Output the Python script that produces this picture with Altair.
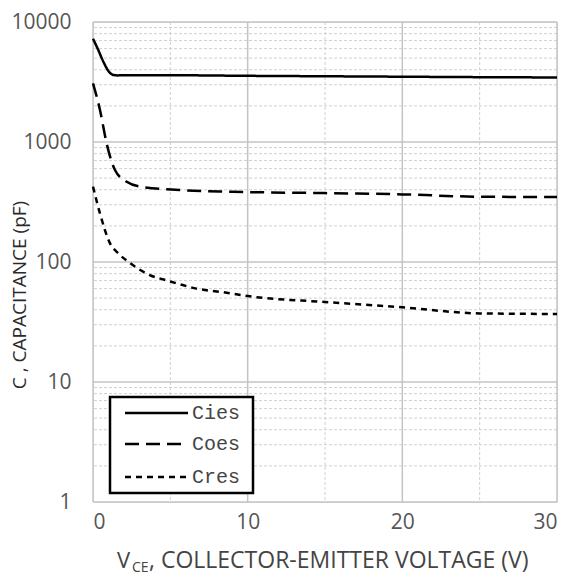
import altair as alt
import pandas as pd

# ---- data ----
cies_x = [0, 0.3, 0.67, 1.0, 1.31, 1.6, 2, 5, 10, 15, 20, 25, 30]
cies_y = [7250, 6000, 4665, 3900, 3620, 3590, 3600, 3600, 3560, 3530, 3500, 3470, 3450]

coes_x = [0, 0.45, 0.88, 1.42, 2.18, 3.04, 5.6, 9, 15, 20, 25, 30]
coes_y = [3080, 1850, 976, 584, 466, 425, 398, 385, 375, 366, 350, 348]

cres_x = [0, 0.45, 1.1, 1.64, 2.39, 3.47, 4.98, 6.7, 8.64, 10, 15, 20, 25, 30]
cres_y = [425, 254, 143, 118, 98, 80, 69, 60, 55.5, 52, 46.4, 41.9, 37.3, 36.9]

series_names = ["Cies", "Coes", "Cres"]

y_major = [1, 10, 100, 1000, 10000]
y_minor = [m * d for d in [1, 10, 100, 1000] for m in range(2, 10)]
x_major = [0, 10, 20, 30]
x_minor = [5, 15, 25]

W, H = 464, 480
FONT = "Open Sans"
DASHES = {"Cies": [1, 0], "Coes": [14, 7], "Cres": [6, 5]}

rows = []
for name, xs, ys in zip(series_names, [cies_x, coes_x, cres_x], [cies_y, coes_y, cres_y]):
    for xv, yv in zip(xs, ys):
        rows.append({"series": name, "v": xv, "c": yv})
df = pd.DataFrame(rows)

xscale = alt.Scale(domain=[0, 30], nice=False, zero=False)
yscale = alt.Scale(type="log", domain=[1, 10000], nice=False)

minor_h = alt.Chart(pd.DataFrame({"c": y_minor})).mark_rule(
    color="#d0d0d0", strokeDash=[3, 2], strokeWidth=1
).encode(y=alt.Y("c:Q", scale=yscale))

minor_v = alt.Chart(pd.DataFrame({"v": x_minor})).mark_rule(
    color="#d0d0d0", strokeDash=[3, 2], strokeWidth=1
).encode(x=alt.X("v:Q", scale=xscale))

major_h = alt.Chart(pd.DataFrame({"c": y_major})).mark_rule(
    color="#c4c4c4", strokeWidth=1.5
).encode(y=alt.Y("c:Q", scale=yscale))

major_v = alt.Chart(pd.DataFrame({"v": x_major})).mark_rule(
    color="#c4c4c4", strokeWidth=1.5
).encode(x=alt.X("v:Q", scale=xscale))

lines = alt.Chart(df).mark_line(
    color="black", strokeWidth=2.5, interpolate="monotone"
).encode(
    x=alt.X(
        "v:Q", scale=xscale,
        axis=alt.Axis(values=x_major, title=None, grid=False, ticks=False,
                      domain=False, labelFontSize=21, labelColor="#555555",
                      labelFont=FONT, labelPadding=9),
    ),
    y=alt.Y(
        "c:Q", scale=yscale,
        axis=alt.Axis(values=y_major, title=None, grid=False, ticks=False,
                      domain=False, labelFontSize=21, labelColor="#555555",
                      labelFont=FONT, labelPadding=22, format="d"),
    ),
    strokeDash=alt.StrokeDash(
        "series:N",
        scale=alt.Scale(domain=series_names, range=[DASHES[n] for n in series_names]),
        legend=None,
    ),
    detail="series:N",
)

# ---- hand-built legend box ----
legend_box = alt.Chart(pd.DataFrame({"k": [0]})).mark_rect(
    fill="white", stroke="black", strokeWidth=2.5
).encode(x=alt.value(17), x2=alt.value(160), y=alt.value(375), y2=alt.value(471))

legend_layers = [legend_box]
leg_rows_y = [391, 422, 455]
for name, ly in zip(series_names, leg_rows_y):
    legend_layers.append(
        alt.Chart(pd.DataFrame({"k": [0]})).mark_rule(
            color="black", strokeWidth=2.5, strokeDash=DASHES[name]
        ).encode(x=alt.value(32), x2=alt.value(95), y=alt.value(ly))
    )
    legend_layers.append(
        alt.Chart(pd.DataFrame({"t": [name]})).mark_text(
            font="Liberation Mono", fontSize=20, color="#444444",
            align="left", baseline="middle"
        ).encode(text="t:N", x=alt.value(99), y=alt.value(ly))
    )

title_y = alt.Chart(pd.DataFrame({"t": ["C , CAPACITANCE (pF)"]})).mark_text(
    angle=270, fontSize=19, font=FONT, color="#2a2a2a", align="center", baseline="middle",
    fontWeight=500
).encode(text="t:N", x=alt.value(-73), y=alt.value(273))

tx_v = alt.Chart(pd.DataFrame({"t": ["V"]})).mark_text(
    fontSize=22, font=FONT, color="#444444", align="left", baseline="alphabetic"
).encode(text="t:N", x=alt.value(24), y=alt.value(546))
tx_ce = alt.Chart(pd.DataFrame({"t": ["CE"]})).mark_text(
    fontSize=14, font=FONT, color="#444444", align="left", baseline="alphabetic"
).encode(text="t:N", x=alt.value(39), y=alt.value(550))
tx_rest = alt.Chart(pd.DataFrame({"t": [", COLLECTOR-EMITTER VOLTAGE (V)"]})).mark_text(
    fontSize=23, font=FONT, color="#444444", align="left", baseline="alphabetic"
).encode(text="t:N", x=alt.value(56), y=alt.value(546))

chart = alt.layer(
    minor_h, minor_v, major_h, major_v, lines, *legend_layers, title_y, tx_v, tx_ce, tx_rest
).properties(
    width=W, height=H,
    padding={"left": 93, "top": 22, "right": 14, "bottom": 75},
    autosize=alt.AutoSizeParams(type="none"),
).configure_view(stroke="#c4c4c4", strokeWidth=1.5).configure(background="white")

chart.save("out.html", embed_options={"renderer": "svg", "actions": False})
